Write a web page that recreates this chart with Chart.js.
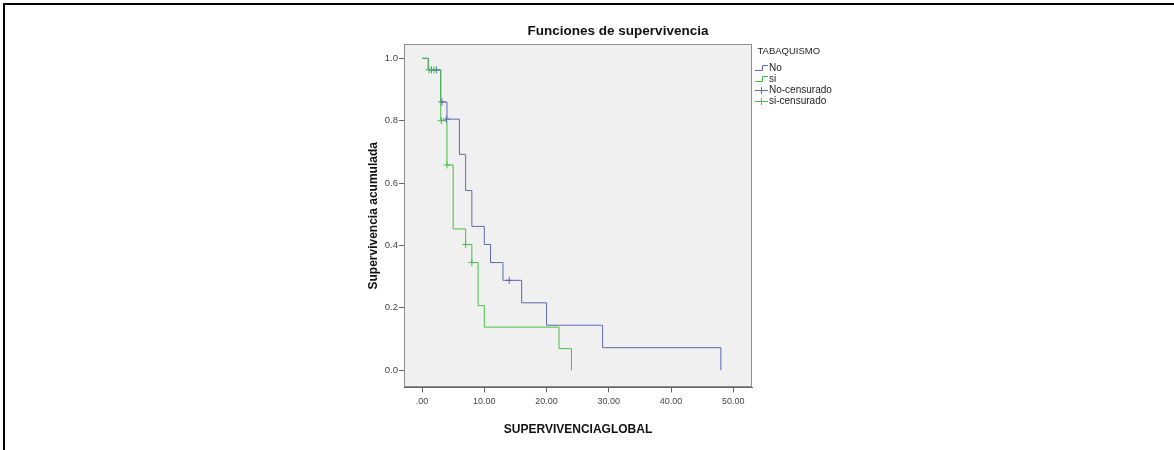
<!DOCTYPE html>
<html><head><meta charset="utf-8">
<script src="https://cdn.jsdelivr.net/npm/chart.js@4.4.0/dist/chart.umd.min.js"></script>
<style>
html,body{margin:0;padding:0;background:#fff;}
#wrap{position:relative;width:1174px;height:450px;overflow:hidden;background:#fff;}
#frame{position:absolute;left:3px;top:3px;width:1300px;height:600px;border-left:2px solid #000;border-top:2px solid #000;box-sizing:border-box;}
canvas{position:absolute;left:0;top:0;}
</style></head><body>
<div id="wrap"><div id="frame"></div><canvas id="c" width="1174" height="450"></canvas></div>
<script>
// ---- text ----
const chartTitle = 'Funciones de supervivencia';
const xTitle = 'SUPERVIVENCIAGLOBAL';
const yTitle = 'Supervivencia acumulada';
const legendTitle = 'TABAQUISMO';
const seriesNames = ['No', 'si', 'No-censurado', 'si-censurado'];
// ---- ticks ----
const xTickValues = [0, 10, 20, 30, 40, 50];
const xTickLabels = ['.00', '10.00', '20.00', '30.00', '40.00', '50.00'];
const yTickValues = [0, 0.2, 0.4, 0.6, 0.8, 1.0];
const yTickLabels = ['0.0', '0.2', '0.4', '0.6', '0.8', '1.0'];
// ---- series: Kaplan-Meier steps ----
const noTimes = [0, 1, 3, 4, 6, 7, 8, 10, 11, 13, 16, 20, 29, 48];
const noSurv  = [1, 0.963, 0.86, 0.805, 0.692, 0.576, 0.461, 0.403, 0.345, 0.288, 0.216, 0.144, 0.072, 0];
const siTimes = [0, 1, 3, 4, 5, 7, 8, 9, 10, 22, 24];
const siSurv  = [1, 0.963, 0.80, 0.658, 0.453, 0.403, 0.345, 0.207, 0.138, 0.069, 0];
// ---- censored marks ----
const noCensTimes = [1.5, 2.3, 3.2, 3.9, 14];
const noCensSurv  = [0.963, 0.963, 0.86, 0.805, 0.288];
const siCensTimes = [1.1, 1.9, 3.1, 4.0, 7, 8];
const siCensSurv  = [0.963, 0.963, 0.80, 0.658, 0.403, 0.345];

const BLUE = '#5c68b4';
const GREEN = '#45c045';
const FAMILY = "'Liberation Sans', Arial, sans-serif";
const pts = (xs, ys) => xs.map((x, i) => ({x: x, y: ys[i]}));

const bgPlugin = {
  id: 'bg',
  beforeDraw(chart) {
    const a = chart.chartArea, c = chart.ctx;
    c.save();
    c.fillStyle = '#f0f0f0';
    c.fillRect(a.left, a.top, a.right - a.left, a.bottom - a.top);
    c.restore();
  },
  afterDraw(chart) {
    const a = chart.chartArea, c = chart.ctx;
    c.save();
    c.strokeStyle = '#8f8f8f';
    c.lineWidth = 1;
    c.strokeRect(Math.round(a.left) + 0.5, Math.round(a.top) + 0.5, Math.round(a.right - a.left) - 1, Math.round(a.bottom - a.top) - 1);
    c.restore();
    // title
    c.save();
    c.fillStyle = '#111';
    c.font = 'bold 13.5px ' + FAMILY;
    c.textAlign = 'center';
    c.textBaseline = 'middle';
    c.fillText(chartTitle, 618, 31);
    // legend
    c.textAlign = 'left';
    c.fillStyle = '#222';
    c.font = '9.5px ' + FAMILY;
    c.fillText(legendTitle, 757.5, 51.5);
    c.font = '10px ' + FAMILY;
    const ys = [68.3, 79, 90, 101];
    const cols = [BLUE, GREEN, BLUE, GREEN];
    for (let i = 0; i < seriesNames.length; i++) {
      const y = ys[i];
      c.strokeStyle = cols[i];
      c.lineWidth = 1;
      c.beginPath();
      if (i < 2) {
        c.moveTo(755, Math.round(y + 2) + 0.5);
        c.lineTo(762.5, Math.round(y + 2) + 0.5);
        c.lineTo(762.5, Math.round(y - 3) + 0.5);
        c.lineTo(768, Math.round(y - 3) + 0.5);
      } else {
        c.moveTo(755, Math.round(y) + 0.5);
        c.lineTo(768, Math.round(y) + 0.5);
        c.moveTo(761.5, Math.round(y) - 3);
        c.lineTo(761.5, Math.round(y) + 4);
      }
      c.stroke();
      c.fillStyle = '#222';
      c.fillText(seriesNames[i], 769, y);
    }
    c.restore();
  }
};

new Chart(document.getElementById('c'), {
  type: 'line',
  data: {
    datasets: [
      {label: seriesNames[3], data: pts(siCensTimes, siCensSurv), showLine: false, pointStyle: 'cross', pointRadius: 3.5, pointBorderWidth: 1, borderColor: GREEN, pointBorderColor: GREEN, order: 0},
      {label: seriesNames[2], data: pts(noCensTimes, noCensSurv), showLine: false, pointStyle: 'cross', pointRadius: 3.5, pointBorderWidth: 1, borderColor: BLUE, pointBorderColor: BLUE, order: 0},
      {label: seriesNames[1], data: pts(siTimes, siSurv), stepped: 'before', borderColor: GREEN, borderWidth: 1, pointRadius: 0, fill: false, order: 1},
      {label: seriesNames[0], data: pts(noTimes, noSurv), stepped: 'before', borderColor: BLUE, borderWidth: 1, pointRadius: 0, fill: false, order: 2}
    ]
  },
  options: {
    responsive: false,
    animation: false,
    events: [],
    layout: {padding: {left: 366.8, right: 422, top: 44.3, bottom: 12.8}},
    plugins: {legend: {display: false}, title: {display: false}, tooltip: {enabled: false}},
    scales: {
      x: {
        type: 'linear', min: -2.9, max: 53,
        afterFit(s) { s.height = 49.9; },
        afterBuildTicks(s) { s.ticks = xTickValues.map(v => ({value: v})); },
        ticks: {
          callback: (v) => xTickLabels[xTickValues.indexOf(v)],
          font: {family: FAMILY, size: 9}, color: '#444', padding: 4, maxRotation: 0, autoSkip: false
        },
        grid: {drawOnChartArea: false, drawTicks: true, tickLength: 5, color: '#666'},
        border: {display: true, color: '#666'},
        title: {display: true, text: xTitle, font: {family: FAMILY, size: 12, weight: 'bold'}, color: '#111', padding: 0}
      },
      y: {
        type: 'linear', min: -0.055, max: 1.045,
        afterFit(s) { s.width = 37.2; },
        afterBuildTicks(s) { s.ticks = yTickValues.map(v => ({value: v})); },
        ticks: {
          callback: (v) => yTickLabels[yTickValues.findIndex(t => Math.abs(t - v) < 1e-9)],
          font: {family: FAMILY, size: 9.5}, color: '#444', padding: 1, autoSkip: false
        },
        grid: {drawOnChartArea: false, drawTicks: true, tickLength: 5, color: '#666'},
        border: {display: true, color: '#666'},
        title: {display: true, text: yTitle, font: {family: FAMILY, size: 12, weight: 'bold'}, color: '#111', padding: 0}
      }
    }
  },
  plugins: [bgPlugin]
});
</script>
</body></html>
